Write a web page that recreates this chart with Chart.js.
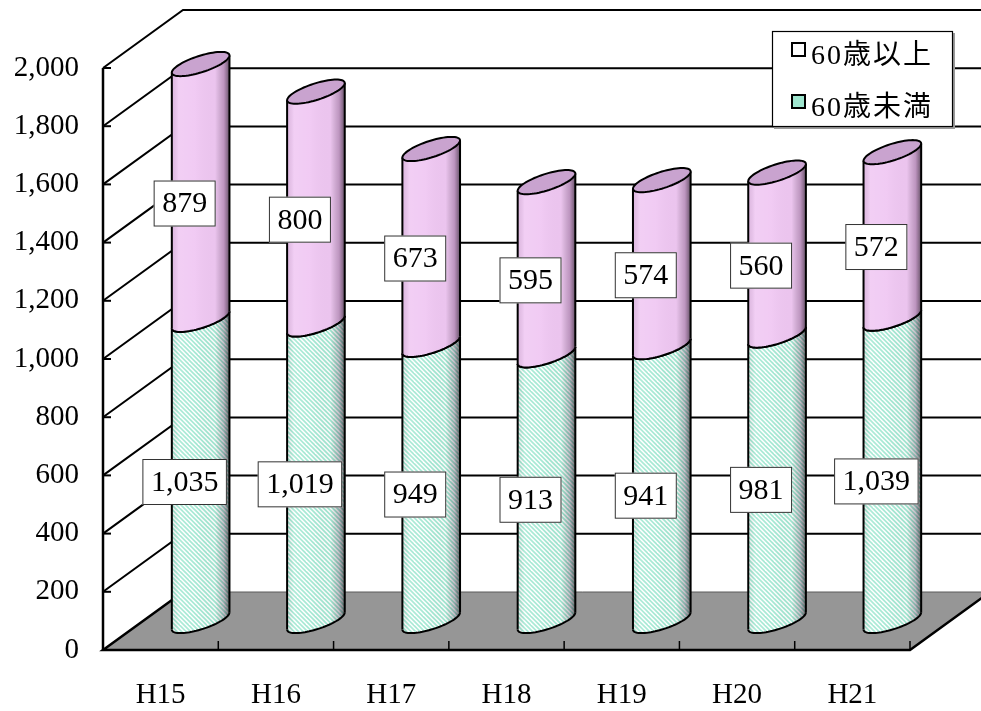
<!DOCTYPE html>
<html>
<head>
<meta charset="utf-8">
<script src="https://cdn.jsdelivr.net/npm/chart.js@4/dist/chart.umd.min.js"></script>
<style>
  html, body { margin: 0; padding: 0; background: #ffffff; }
  #wrap { width: 981px; height: 711px; }
</style>
</head>
<body>
<div id="wrap"><canvas id="c" width="981" height="711"></canvas></div>
<script>
// Years (Heisei era) and head counts per age group
const categories = ['H15', 'H16', 'H17', 'H18', 'H19', 'H20', 'H21'];
const under60 = [1035, 1019, 949, 913, 941, 981, 1039];
const over60 = [879, 800, 673, 595, 574, 560, 572];
const valueTicks = [0, 200, 400, 600, 800, 1000, 1200, 1400, 1600, 1800, 2000];
const seriesNames = ['60歳未満', '60歳以上'];

// Oblique depth of the box (back wall offset from the front plane)
const DEPTH_X = 80;
const DEPTH_Y = -58;
const NUM_FONT = '"Liberation Serif", "DejaVu Serif", serif';

const GREEN = '#9fe6cf';
const PINK = '#f0c8f3';
const PINK_CAP = '#c9a3cf';

function stripePattern(ctx) {
  const tile = document.createElement('canvas');
  tile.width = 9; tile.height = 9;
  const t = tile.getContext('2d');
  t.fillStyle = '#ffffff';
  t.fillRect(0, 0, 9, 9);
  t.strokeStyle = '#a2e8d2';
  t.lineWidth = 1.7;
  for (let k = -4; k <= 4; k++) {
    t.beginPath();
    t.moveTo(-4.5, -4.5 + k * 4.5);
    t.lineTo(13.5, 13.5 + k * 4.5);
    t.stroke();
  }
  return ctx.createPattern(tile, 'repeat');
}

// Point on the elliptical cross-section of a cylinder
function ellPt(cx, cy, R, th) {
  const r = R / Math.SQRT2, a = R / Math.SQRT2, b = R * 0.42;
  return [cx + r * Math.cos(th) + a * Math.sin(th), cy - b * Math.sin(th)];
}

function frontArc(ctx, cx, cy, R, reverse, move) {
  const start = 225 * Math.PI / 180, end = 405 * Math.PI / 180;
  const steps = 40;
  for (let s = 0; s <= steps; s++) {
    const f = reverse ? 1 - s / steps : s / steps;
    const p = ellPt(cx, cy, R, start + (end - start) * f);
    if (s === 0 && move) ctx.moveTo(p[0], p[1]); else ctx.lineTo(p[0], p[1]);
  }
}

function fullEllipse(ctx, cx, cy, R) {
  const steps = 72;
  for (let s = 0; s <= steps; s++) {
    const p = ellPt(cx, cy, R, (s / steps) * Math.PI * 2);
    if (s === 0) ctx.moveTo(p[0], p[1]); else ctx.lineTo(p[0], p[1]);
  }
  ctx.closePath();
}

function drawSegment(ctx, cx, yTop, yBot, R, fill, withCap) {
  // body
  ctx.beginPath();
  frontArc(ctx, cx, yTop, R, false, true);
  frontArc(ctx, cx, yBot, R, true, false);
  ctx.closePath();
  ctx.fillStyle = fill;
  ctx.fill();
  // cylindrical shading
  const g = ctx.createLinearGradient(cx - R, 0, cx + R, 0);
  g.addColorStop(0, 'rgba(0,0,0,0.08)');
  g.addColorStop(0.12, 'rgba(255,255,255,0.12)');
  g.addColorStop(0.4, 'rgba(255,255,255,0.05)');
  g.addColorStop(0.75, 'rgba(0,0,0,0.02)');
  g.addColorStop(0.9, 'rgba(40,0,40,0.25)');
  g.addColorStop(1, 'rgba(0,0,0,0.58)');
  ctx.fillStyle = g;
  ctx.fill();
  // outline: sides and lower arc
  ctx.strokeStyle = '#000';
  ctx.lineWidth = 2;
  ctx.beginPath();
  const lt = ellPt(cx, yTop, R, 225 * Math.PI / 180);
  const lb = ellPt(cx, yBot, R, 225 * Math.PI / 180);
  ctx.moveTo(lt[0], lt[1]); ctx.lineTo(lb[0], lb[1]);
  const rt = ellPt(cx, yTop, R, 45 * Math.PI / 180);
  const rb = ellPt(cx, yBot, R, 45 * Math.PI / 180);
  ctx.moveTo(rt[0], rt[1]); ctx.lineTo(rb[0], rb[1]);
  ctx.stroke();
  ctx.beginPath();
  frontArc(ctx, cx, yBot, R, false, true);
  ctx.stroke();
  if (withCap) {
    ctx.beginPath();
    fullEllipse(ctx, cx, yTop, R);
    ctx.fillStyle = PINK_CAP;
    ctx.fill();
    ctx.stroke();
  } else {
    ctx.beginPath();
    frontArc(ctx, cx, yTop, R, false, true);
    ctx.stroke();
  }
}

const boxPlugin = {
  id: 'box3d',
  beforeDatasetsDraw(chart) {
    const ctx = chart.ctx;
    const { left, right, bottom } = chart.chartArea;
    const ys = chart.scales.y;
    const xs = chart.scales.x;
    ctx.save();
    // floor
    ctx.beginPath();
    ctx.moveTo(left, bottom);
    ctx.lineTo(right, bottom);
    ctx.lineTo(right + DEPTH_X, bottom + DEPTH_Y);
    ctx.lineTo(left + DEPTH_X, bottom + DEPTH_Y);
    ctx.closePath();
    ctx.fillStyle = '#969696';
    ctx.fill();
    ctx.strokeStyle = '#5a5a5a';
    ctx.lineWidth = 1;
    ctx.beginPath();
    ctx.moveTo(left + DEPTH_X, bottom + DEPTH_Y);
    ctx.lineTo(right + DEPTH_X, bottom + DEPTH_Y);
    ctx.stroke();
    // gridlines on side wall and back wall
    ctx.strokeStyle = '#000';
    ctx.lineWidth = 2;
    valueTicks.forEach(v => {
      if (v === valueTicks[0]) return;
      const y = ys.getPixelForValue(v);
      ctx.beginPath();
      ctx.moveTo(left, y);
      ctx.lineTo(left + DEPTH_X, y + DEPTH_Y);
      ctx.lineTo(right + DEPTH_X, y + DEPTH_Y);
      ctx.stroke();
      ctx.beginPath();
      ctx.moveTo(left, y);
      ctx.lineTo(left + 8, y);
      ctx.stroke();
    });
    // floor edges and front axes
    ctx.lineWidth = 2.5;
    ctx.beginPath();
    ctx.moveTo(left + DEPTH_X, bottom + DEPTH_Y);
    ctx.lineTo(left, bottom);
    ctx.lineTo(right, bottom);
    ctx.lineTo(right + DEPTH_X, bottom + DEPTH_Y);
    ctx.stroke();
    ctx.beginPath();
    ctx.moveTo(left, ys.getPixelForValue(valueTicks[valueTicks.length - 1]));
    ctx.lineTo(left, bottom);
    ctx.stroke();
    // category tick marks along the front edge
    ctx.lineWidth = 1.5;
    const step = (right - left) / categories.length;
    for (let i = 1; i <= categories.length; i++) {
      const x = xs.getPixelForValue(i - 1) + step / 2;
      ctx.beginPath();
      ctx.moveTo(x, bottom);
      ctx.lineTo(x, bottom - 9);
      ctx.stroke();
    }
    ctx.restore();
  },
  afterDatasetsDraw(chart) {
    const ctx = chart.ctx;
    const lower = chart.getDatasetMeta(0).data;
    const upper = chart.getDatasetMeta(1).data;
    const fillGreen = stripePattern(ctx);
    const cdx = DEPTH_X / 2, cdy = DEPTH_Y / 2;
    ctx.save();
    lower.forEach((bar, i) => {
      const R = bar.width / 2;
      const cx = bar.x + cdx;
      drawSegment(ctx, cx, bar.y + cdy, bar.base + cdy, R, fillGreen, false);
      const top = upper[i];
      drawSegment(ctx, cx, top.y + cdy, top.base + cdy, R, PINK, true);
    });
    // value boxes, placed a little in front of the bar centre line
    const ldx = DEPTH_X * 0.3, ldy = DEPTH_Y * 0.3;
    ctx.font = '30px ' + NUM_FONT;
    ctx.textAlign = 'center';
    ctx.textBaseline = 'middle';
    chart.data.datasets.forEach((ds, di) => {
      chart.getDatasetMeta(di).data.forEach((bar, i) => {
        const text = ds.data[i].toLocaleString('en-US');
        const cx = bar.x + ldx;
        const cy = (bar.y + bar.base) / 2 + ldy;
        const w = ctx.measureText(text).width + 17;
        const h = 46;
        ctx.fillStyle = '#fff';
        ctx.fillRect(cx - w / 2, cy - h / 2, w, h);
        ctx.strokeStyle = '#333';
        ctx.lineWidth = 1;
        ctx.strokeRect(cx - w / 2 + 0.5, cy - h / 2 + 0.5, w - 1, h - 1);
        ctx.fillStyle = '#000';
        ctx.fillText(text, cx, cy + 1);
      });
    });
    ctx.restore();
  },
  afterDraw(chart) {
    // legend box, upper series listed first
    const ctx = chart.ctx;
    ctx.save();
    const bx = 772, by = 31, bw = 181, bh = 96;
    ctx.fillStyle = '#9a9a9a';
    ctx.fillRect(bx + 2, by + 2, bw, bh);
    ctx.fillStyle = '#fff';
    ctx.fillRect(bx, by, bw, bh);
    ctx.strokeStyle = '#000';
    ctx.lineWidth = 1.2;
    ctx.strokeRect(bx + 0.5, by + 0.5, bw - 1, bh - 1);
    const items = [
      { label: chart.data.datasets[1].label, fill: '#ffffff', y: by + 19 },
      { label: chart.data.datasets[0].label, fill: GREEN, y: by + 71 }
    ];
    items.forEach(it => {
      ctx.fillStyle = it.fill;
      ctx.fillRect(bx + 20, it.y - 7, 13, 13);
      ctx.strokeStyle = '#000';
      ctx.lineWidth = 2;
      ctx.strokeRect(bx + 20, it.y - 7, 13, 13);
      ctx.fillStyle = '#000';
      ctx.font = '28px "Liberation Serif", "Noto Sans CJK JP", serif';
      ctx.letterSpacing = '2px';
      ctx.textAlign = 'left';
      ctx.textBaseline = 'middle';
      ctx.fillText(it.label, bx + 39, it.y + 7);
    });
    ctx.restore();
  }
};

new Chart(document.getElementById('c'), {
  type: 'bar',
  data: {
    labels: categories,
    datasets: [
      { label: seriesNames[0], data: under60, backgroundColor: 'rgba(0,0,0,0)', borderWidth: 0 },
      { label: seriesNames[1], data: over60, backgroundColor: 'rgba(0,0,0,0)', borderWidth: 0 }
    ]
  },
  options: {
    responsive: false,
    animation: false,
    events: [],
    layout: { padding: { top: 68, right: 71, bottom: 0, left: 0 } },
    datasets: { bar: { categoryPercentage: 1.0, barPercentage: 0.5 } },
    plugins: { legend: { display: false }, tooltip: { enabled: false } },
    scales: {
      x: {
        stacked: true,
        grid: { display: false, drawTicks: false },
        border: { display: false },
        ticks: { color: '#000', font: { family: NUM_FONT, size: 29 }, padding: 28, maxRotation: 0 },
        afterFit: s => { s.height = 61; }
      },
      y: {
        stacked: true,
        min: valueTicks[0],
        max: valueTicks[valueTicks.length - 1],
        grid: { display: false, drawTicks: false },
        border: { display: false },
        afterBuildTicks: s => { s.ticks = valueTicks.map(v => ({ value: v })); },
        ticks: {
          color: '#000',
          font: { family: NUM_FONT, size: 29 },
          padding: 24,
          callback: v => v.toLocaleString('en-US')
        },
        afterFit: s => { s.width = 103; }
      }
    }
  },
  plugins: [boxPlugin]
});
</script>
</body>
</html>
